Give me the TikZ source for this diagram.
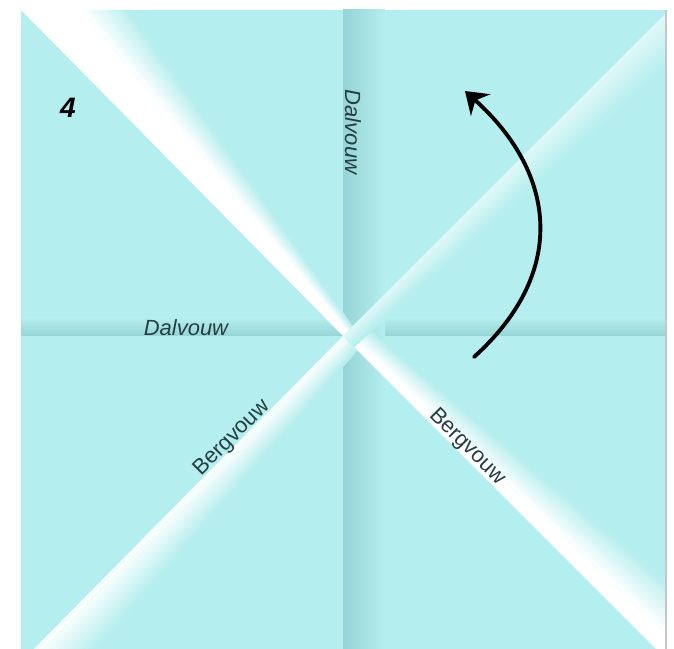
\documentclass[tikz,border=0pt]{standalone}
\usepackage{fontspec}
\setmainfont{Liberation Sans}
\usetikzlibrary{arrows.meta}

\definecolor{papercyan}{RGB}{181,238,238}
\definecolor{creasecyan}{RGB}{150,212,215}
\definecolor{labelteal}{RGB}{38,62,66}

\tikzset{
    foldlabel/.style={text=labelteal, font=\fontsize{12.5}{14}\selectfont, inner sep=0pt},
    foldarrow/.style={line width=2.2pt, line cap=round, -{Stealth[length=0.42cm, width=0.58cm, inset=0.14cm]}}
}

\begin{document}
\begin{tikzpicture}[x=0.02cm, y=0.02cm]
    \useasboundingbox (0,0) rectangle (674,649);
    \clip (0,0) rectangle (674,649);
    \fill[white] (0,0) rectangle (674,649);

    % the square sheet
    \coordinate (c) at (343,313);
    \coordinate (tl) at (21,639);
    \coordinate (tr) at (665,639);
    \coordinate (bl) at (21,-13);
    \coordinate (br) at (665,-13);
    \fill[papercyan] (tl) -- (tr) -- (br) -- (bl) -- cycle;

    % valley creases
    \shade[bottom color=creasecyan, top color=papercyan] (21,313) rectangle (665,331);
    \shade[left color=creasecyan, right color=papercyan] (343,-13) rectangle (385,639);

    % light bands along the diagonals
    \foreach \ang/\sgn/\apex/\ws/\wf/\wt/\ca/\cb in {135/-1/80/50/95/100/tl/tr, 315/1/260/18/62/100/tr/br, 225/1/300/10/52/88/bl/br, 45/-1/300/4/40/55/tr/br}{
        \begin{scope}
            \clip (c) -- (\ca) -- (\cb) -- cycle;
            \begin{scope}[shift={(c)}, rotate=\ang]
                \fill[papercyan!\the\numexpr100-\wt\relax!white] (-\apex,0) -- (470,0) -- (470,\sgn*\ws) -- cycle;
                \foreach \k in {0,...,19}{
                    \pgfmathtruncatemacro\mix{(100-\wt)+(\k+0.5)*\wt/20}
                    \fill[papercyan!\mix!white] (-\apex,0) -- (470,{\sgn*(\ws+\k*(\wf-\ws)/20)}) -- (470,{\sgn*(\ws+(\k+1)*(\wf-\ws)/20+1)}) -- cycle;
                }
            \end{scope}
        \end{scope}
    }

    % shadow on the right edge
    \draw[gray!45, line width=1.5pt] (666,-13) -- (666,639);

    % step number and labels
    \node[text=black, font=\fontsize{16}{16}\selectfont\bfseries\itshape] (stepnum) at (68,541) {4};
    \node[foldlabel, font=\fontsize{12.5}{14}\selectfont\itshape, rotate=-90] (dalvouwv) at (353,517) {Dalvouw};
    \node[foldlabel, font=\fontsize{12.5}{14}\selectfont\itshape] (dalvouwh) at (186,321) {Dalvouw};
    \node[foldlabel, rotate=45] (bergvouwl) at (232,211) {Bergvouw};
    \node[foldlabel, rotate=-45] (bergvouwr) at (467,202) {Bergvouw};

    % turn arrow
    \coordinate (arrowstart) at (474,292);
    \coordinate (arrowtip) at (465,558);
    \draw[foldarrow] (arrowstart) to[out=42, in=-42, looseness=1.2] (arrowtip);
\end{tikzpicture}
\end{document}
